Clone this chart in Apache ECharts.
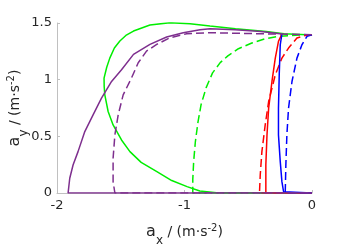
<!DOCTYPE html>
<html>
<head>
<meta charset="utf-8">
<script src="https://cdn.jsdelivr.net/npm/echarts@6/dist/echarts.min.js"></script>
<style>
html,body{margin:0;padding:0;background:#fff;}
#chart{width:345px;height:250px;}
</style>
</head>
<body>
<div id="chart"></div>
<script>
// Data: [ax, ay] pairs
const greenSolid = [[0,1.394],[-0.22,1.406],[-0.36,1.425],[-0.6,1.45],[-0.8,1.473],[-0.957,1.494],[-1.114,1.503],[-1.271,1.482],[-1.40,1.429],[-1.46,1.39],[-1.507,1.341],[-1.55,1.28],[-1.586,1.19],[-1.61,1.11],[-1.631,1.014],[-1.63,0.94],[-1.625,0.866],[-1.599,0.719],[-1.56,0.601],[-1.494,0.468],[-1.428,0.365],[-1.34,0.27],[-1.22,0.19],[-1.10,0.11],[-0.98,0.056],[-0.88,0.018],[-0.75,0.003],[-0.6,0],[0,0]];
const greenDashed = [[0,1.397],[-0.1,1.394],[-0.263,1.382],[-0.367,1.361],[-0.472,1.323],[-0.577,1.273],[-0.66,1.21],[-0.72,1.15],[-0.78,1.06],[-0.83,0.93],[-0.87,0.78],[-0.895,0.62],[-0.915,0.45],[-0.928,0.28],[-0.935,0.12],[-0.935,0],[0,0]];
const redSolid = [[-0.236,1.403],[-0.263,1.338],[-0.288,1.19],[-0.314,0.984],[-0.34,0.749],[-0.353,0.513],[-0.362,0.248],[-0.362,0],[0,0]];
const redDashed = [[0,1.397],[-0.053,1.39],[-0.118,1.367],[-0.184,1.279],[-0.236,1.19],[-0.288,1.043],[-0.34,0.807],[-0.367,0.601],[-0.393,0.365],[-0.406,0.159],[-0.412,0],[0,0]];
const blueSolid = [[-0.236,1.403],[-0.249,1.308],[-0.257,1.043],[-0.263,0.749],[-0.263,0.513],[-0.249,0.277],[-0.236,0.1],[-0.223,0.011],[-0.21,0],[0,0]];
const blueDashed = [[0,1.397],[-0.039,1.382],[-0.079,1.308],[-0.118,1.19],[-0.157,0.984],[-0.184,0.749],[-0.197,0.513],[-0.205,0.248],[-0.21,0],[0,0]];
const purpleSolid = [[-0.236,1.403],[-0.4,1.425],[-0.603,1.441],[-0.80,1.45],[-0.878,1.441],[-1.01,1.414],[-1.14,1.376],[-1.271,1.311],[-1.40,1.223],[-1.494,1.087],[-1.572,0.984],[-1.651,0.837],[-1.717,0.69],[-1.782,0.542],[-1.835,0.365],[-1.874,0.247],[-1.90,0.13],[-1.913,0],[0,0]];
const purpleDashed = [[0,1.397],[-0.3,1.403],[-0.80,1.414],[-0.983,1.405],[-1.114,1.37],[-1.218,1.311],[-1.298,1.252],[-1.363,1.149],[-1.415,1.017],[-1.481,0.866],[-1.52,0.69],[-1.546,0.513],[-1.56,0.307],[-1.56,0.1],[-1.546,0],[0,0]];
const xTicks = [-2, -1, 0];
const yTicks = [0, 0.5, 1, 1.5];

const chart = echarts.init(document.getElementById('chart'), null, {renderer: 'canvas'});
const FONT = 'DejaVu Sans';
const TXT = '#262626';
const richTitle = {
  a: {fontFamily: FONT, fontSize: 16, color: TXT, lineHeight: 30, verticalAlign: 'middle'},
  n: {fontFamily: FONT, fontSize: 14, color: TXT, lineHeight: 30, verticalAlign: 'middle'},
  sub: {fontFamily: FONT, fontSize: 12, color: TXT, lineHeight: 30, verticalAlign: 'middle', padding: [18, 0, 0, 0]},
  sup: {fontFamily: FONT, fontSize: 10, color: TXT, lineHeight: 30, verticalAlign: 'middle', padding: [0, 0, 8, 0]}
};
function mk(data, color, dashed) {
  return {
    type: 'line', data: data, showSymbol: false, symbol: 'none', animation: false,
    lineStyle: {color: color, width: 1.5, type: dashed ? [8, 4] : 'solid'},
    silent: true
  };
}
chart.setOption({
  animation: false,
  grid: {left: 57, right: 33, top: 23, bottom: 57, containLabel: false, outerBoundsMode: 'none'},
  xAxis: {
    type: 'value', min: xTicks[0], max: xTicks[xTicks.length - 1], interval: 1,
    name: '{a|a}{sub|x}{n| / (m·s}{sup|-2}{n|)}',
    nameLocation: 'middle', nameGap: 24, nameMoveOverlap: false,
    nameTextStyle: {rich: richTitle},
    axisLine: {show: true, onZero: false, lineStyle: {color: '#c0c0c0', width: 1}},
    axisTick: {show: true, inside: true, length: 3, lineStyle: {color: '#c0c0c0'}},
    axisLabel: {fontFamily: FONT, fontSize: 13, color: TXT, margin: 6},
    splitLine: {show: false}
  },
  yAxis: {
    type: 'value', min: yTicks[0], max: yTicks[yTicks.length - 1], interval: 0.5,
    name: '{a|a}{sub|y}{n| / (m·s}{sup|-2}{n|)}',
    nameLocation: 'middle', nameGap: 27, nameRotate: 90, nameMoveOverlap: false,
    nameTextStyle: {rich: richTitle},
    axisLine: {show: true, onZero: false, lineStyle: {color: '#c0c0c0', width: 1}},
    axisTick: {show: true, inside: true, length: 3, lineStyle: {color: '#c0c0c0'}},
    axisLabel: {fontFamily: FONT, fontSize: 13, color: TXT, margin: 5},
    splitLine: {show: false}
  },
  series: [
    mk(greenSolid, '#00ee00', false),
    mk(greenDashed, '#00ee00', true),
    mk(redSolid, '#ff0000', false),
    mk(redDashed, '#ff0000', true),
    mk(blueSolid, '#0000ff', false),
    mk(blueDashed, '#0000ff', true),
    mk(purpleDashed, '#7e2f8e', true),
    mk(purpleSolid, '#7e2f8e', false)
  ]
});
</script>
</body>
</html>
